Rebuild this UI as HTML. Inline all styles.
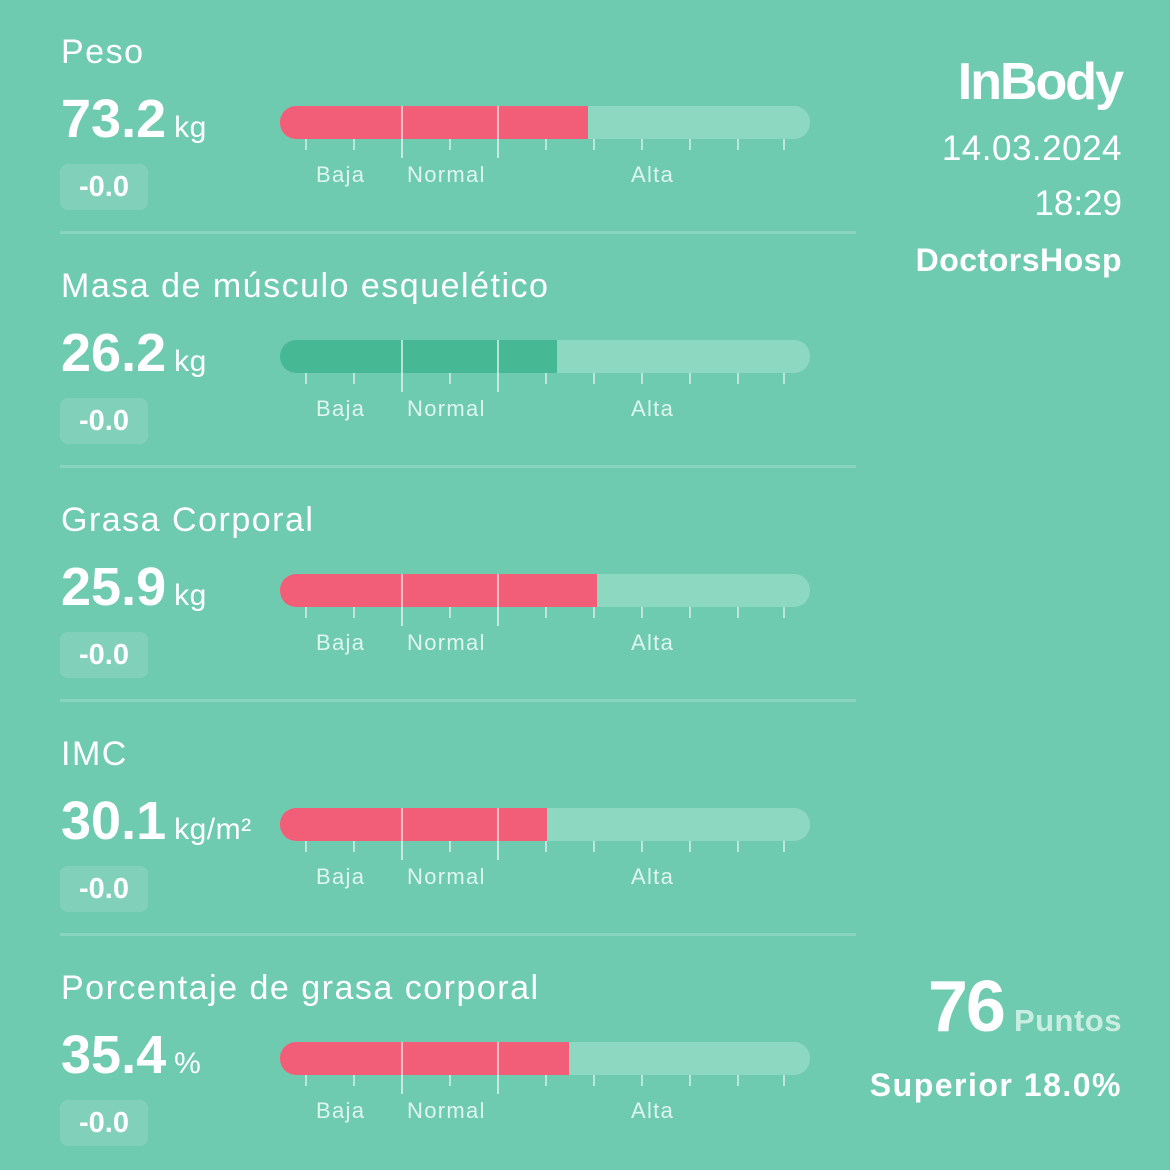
<!DOCTYPE html>
<html><head><meta charset="utf-8"><style>
*{margin:0;padding:0;box-sizing:border-box}
body{width:1170px;height:1170px;background:#6fcbb0;font-family:"Liberation Sans",sans-serif;color:#fff;position:relative;overflow:hidden}
.s{position:absolute;left:0;width:1170px;height:234px}
.t{position:absolute;left:61px;top:33px;font-size:34px;color:#fff;letter-spacing:1.5px}
.v{position:absolute;left:61px;top:88px;font-size:54px;font-weight:bold;letter-spacing:0}
.u{font-size:30px;font-weight:normal;letter-spacing:0.5px;margin-left:8px}
.d{position:absolute;left:60px;top:164px;width:88px;height:46px;background:rgba(255,255,255,0.13);border-radius:8px;font-size:29px;font-weight:bold;text-align:center;line-height:46px}
.bar{position:absolute;left:280px;top:106px;width:530px;height:33px;border-radius:16px;background:#8dd8c0;overflow:hidden}
.f{position:absolute;left:0;top:0;height:33px;background:#f25e78}
.tk{position:absolute;top:139px;width:2px;height:11px;background:rgba(255,255,255,0.55)}
.lg{position:absolute;top:106px;width:2px;height:52px;background:rgba(255,255,255,0.6)}
.lb{position:absolute;top:162px;font-size:22px;color:#dff5ee;letter-spacing:1.3px}
.sep{position:absolute;left:60px;top:231px;width:796px;height:3px;background:rgba(255,255,255,0.18)}
</style></head><body>

<div class="s" style="top:0">
<div class="t">Peso</div><div class="v">73.2<span class="u">kg</span></div><div class="d">-0.0</div>
<div class="bar"><div class="f" style="width:308px"></div></div>
<div class="tk" style="left:305px"></div><div class="tk" style="left:353px"></div><div class="tk" style="left:449px"></div><div class="tk" style="left:545px"></div><div class="tk" style="left:593px"></div><div class="tk" style="left:641px"></div><div class="tk" style="left:689px"></div><div class="tk" style="left:737px"></div><div class="tk" style="left:783px"></div>
<div class="lg" style="left:401px"></div><div class="lg" style="left:497px"></div>
<div class="lb" style="left:316px">Baja</div><div class="lb" style="left:407px">Normal</div><div class="lb" style="left:631px">Alta</div>
<div class="sep"></div></div>

<div class="s" style="top:234px">
<div class="t">Masa de músculo esquelético</div><div class="v">26.2<span class="u">kg</span></div><div class="d">-0.0</div>
<div class="bar"><div class="f" style="width:277px;background:#46b894"></div></div>
<div class="tk" style="left:305px"></div><div class="tk" style="left:353px"></div><div class="tk" style="left:449px"></div><div class="tk" style="left:545px"></div><div class="tk" style="left:593px"></div><div class="tk" style="left:641px"></div><div class="tk" style="left:689px"></div><div class="tk" style="left:737px"></div><div class="tk" style="left:783px"></div>
<div class="lg" style="left:401px"></div><div class="lg" style="left:497px"></div>
<div class="lb" style="left:316px">Baja</div><div class="lb" style="left:407px">Normal</div><div class="lb" style="left:631px">Alta</div>
<div class="sep"></div></div>

<div class="s" style="top:468px">
<div class="t">Grasa Corporal</div><div class="v">25.9<span class="u">kg</span></div><div class="d">-0.0</div>
<div class="bar"><div class="f" style="width:317px"></div></div>
<div class="tk" style="left:305px"></div><div class="tk" style="left:353px"></div><div class="tk" style="left:449px"></div><div class="tk" style="left:545px"></div><div class="tk" style="left:593px"></div><div class="tk" style="left:641px"></div><div class="tk" style="left:689px"></div><div class="tk" style="left:737px"></div><div class="tk" style="left:783px"></div>
<div class="lg" style="left:401px"></div><div class="lg" style="left:497px"></div>
<div class="lb" style="left:316px">Baja</div><div class="lb" style="left:407px">Normal</div><div class="lb" style="left:631px">Alta</div>
<div class="sep"></div></div>

<div class="s" style="top:702px">
<div class="t">IMC</div><div class="v">30.1<span class="u">kg/m²</span></div><div class="d">-0.0</div>
<div class="bar"><div class="f" style="width:267px"></div></div>
<div class="tk" style="left:305px"></div><div class="tk" style="left:353px"></div><div class="tk" style="left:449px"></div><div class="tk" style="left:545px"></div><div class="tk" style="left:593px"></div><div class="tk" style="left:641px"></div><div class="tk" style="left:689px"></div><div class="tk" style="left:737px"></div><div class="tk" style="left:783px"></div>
<div class="lg" style="left:401px"></div><div class="lg" style="left:497px"></div>
<div class="lb" style="left:316px">Baja</div><div class="lb" style="left:407px">Normal</div><div class="lb" style="left:631px">Alta</div>
<div class="sep"></div></div>

<div class="s" style="top:936px">
<div class="t">Porcentaje de grasa corporal</div><div class="v">35.4<span class="u">%</span></div><div class="d">-0.0</div>
<div class="bar"><div class="f" style="width:289px"></div></div>
<div class="tk" style="left:305px"></div><div class="tk" style="left:353px"></div><div class="tk" style="left:449px"></div><div class="tk" style="left:545px"></div><div class="tk" style="left:593px"></div><div class="tk" style="left:641px"></div><div class="tk" style="left:689px"></div><div class="tk" style="left:737px"></div><div class="tk" style="left:783px"></div>
<div class="lg" style="left:401px"></div><div class="lg" style="left:497px"></div>
<div class="lb" style="left:316px">Baja</div><div class="lb" style="left:407px">Normal</div><div class="lb" style="left:631px">Alta</div>
</div>

<div style="position:absolute;right:48px;top:52px;font-size:52px;font-weight:bold;letter-spacing:-2px;line-height:60px">InBody</div>
<div style="position:absolute;right:48px;top:129px;font-size:35px;text-align:right;letter-spacing:0.5px">14.03.2024</div>
<div style="position:absolute;right:48px;top:184px;font-size:35px;text-align:right">18:29</div>
<div style="position:absolute;right:48px;top:242px;font-size:32px;font-weight:bold;text-align:right;letter-spacing:0.5px">DoctorsHosp</div>
<div style="position:absolute;right:48px;top:966px;text-align:right;white-space:nowrap"><span style="font-size:72px;font-weight:bold;letter-spacing:-2px">76</span><span style="font-size:31px;font-weight:bold;color:#c9eee1;margin-left:10px;letter-spacing:0.5px">Puntos</span></div>
<div style="position:absolute;right:48px;top:1067px;font-size:32px;font-weight:bold;text-align:right;letter-spacing:1.5px">Superior 18.0%</div>
</body></html>
